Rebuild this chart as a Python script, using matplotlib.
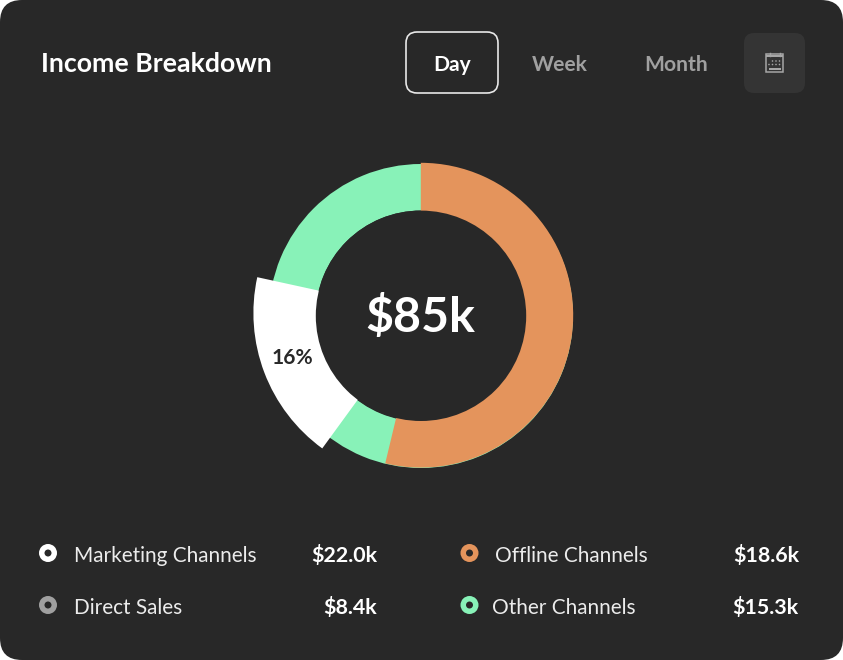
import matplotlib
matplotlib.use('Agg')
import matplotlib.pyplot as plt
from matplotlib.patches import FancyBboxPatch, Rectangle, Circle

plt.rcParams['font.family'] = ['Lato', 'DejaVu Sans']

# ring shares in percent, clockwise from the top
orange_share = 53.75
white_share = 18.4
white_start = 216.1   # degrees clockwise from the top
center_label = '$85k'
white_label = '16%'
title = 'Income Breakdown'
periods = ['Day', 'Week', 'Month']
legend_names = ['Marketing Channels', 'Direct Sales', 'Offline Channels', 'Other Channels']
legend_values = ['$22.0k', '$8.4k', '$18.6k', '$15.3k']
legend_colors = ['#ffffff', '#a0a0a0', '#e4945c', '#88f2b8']

W, H = 843, 660
BG = '#282828'
GREEN = '#88f2b8'
ORANGE = '#e4945c'

fig = plt.figure(figsize=(W / 100, H / 100), dpi=100, facecolor='white')
ax = fig.add_axes([0, 0, 1, 1])

# y is flipped by hand so the pie keeps its normal direction
def Y(py):
    return H - py

def box(x0, y0, x1, y1, r, **kw):
    ax.add_patch(FancyBboxPatch((x0 + r, Y(y1) + r), x1 - x0 - 2 * r, y1 - y0 - 2 * r,
                                boxstyle='round,pad=%f' % r, **kw))

def fs(px):
    return px * 0.72

# card
box(0, 0, 843, 660, 22, fc=BG, ec='none', zorder=0)

# ring: green base, orange and white sit slightly off centre on top of it
ax.pie([100], colors=[GREEN], center=(421, Y(316)), radius=152,
       wedgeprops=dict(width=46.5, linewidth=0), frame=True)
ax.pie([orange_share, 100 - orange_share], colors=[ORANGE, 'none'], startangle=90,
       counterclock=False, center=(420.8, Y(315.2)), radius=152.4,
       wedgeprops=dict(width=49, linewidth=0), frame=True)
ax.pie([white_share, 100 - white_share], colors=['white', 'none'], startangle=90 - white_start,
       counterclock=False, center=(421, Y(313)), radius=167.6,
       wedgeprops=dict(width=65, linewidth=0), frame=True)
# hole is drawn last so the inner edge stays one circle
ax.add_patch(Circle((421, Y(315.8)), 105.2, fc=BG, ec='none', zorder=4))

ax.set_xlim(0, W)
ax.set_ylim(0, H)
ax.set_aspect('equal')
ax.axis('off')

ax.text(420.3, Y(317.5), center_label, color='white', fontsize=fs(48.2), weight='bold',
        ha='center', va='center', zorder=5)
ax.text(292.5, Y(358), white_label, color=BG, fontsize=fs(21), weight='bold',
        ha='center', va='center', zorder=5)

# header
ax.text(41, Y(64.5), title, color='white', fontsize=fs(26.7), weight='bold',
        ha='left', va='center')

box(406, 32, 498, 93, 11, fc='none', ec='#e8e8e8', lw=1.2)
period_x = [452, 559.5, 676]
period_c = ['white', '#a0a0a0', '#a0a0a0']
for label, px, c in zip(periods, period_x, period_c):
    ax.text(px, Y(65), label, color=c, fontsize=fs(21), weight='bold',
            ha='center', va='center')

# calendar button
box(744, 33, 805, 93, 10, fc='#343434', ec='none')
icon = '#a6a6a6'
ax.add_patch(Rectangle((766, Y(72)), 17, 18, fc='none', ec=icon, lw=1.1))
ax.add_patch(Rectangle((766, Y(57)), 17, 2, fc=icon, ec='none'))
ax.plot([769.5, 769.5], [Y(56), Y(52.5)], color=icon, lw=1)
ax.plot([779.5, 779.5], [Y(56), Y(52.5)], color=icon, lw=1)
ax.add_patch(Rectangle((768.5, Y(69.5)), 12, 2, fc=icon, ec='none'))
for gx in [772.5, 776, 779.5]:
    ax.add_patch(Circle((gx, Y(61)), 0.8, fc=icon, ec='none'))
for gx in [769, 772.5, 776, 779.5]:
    ax.add_patch(Circle((gx, Y(64.5)), 0.8, fc=icon, ec='none'))

# legend
dot_x = [48, 48, 469.5, 469.5]
dot_y = [553, 605, 553, 605]
name_x = [74, 74, 495, 492]
value_x = [377, 377, 799, 799]
for i in range(4):
    ax.add_patch(Circle((dot_x[i], Y(dot_y[i])), 9, fc=legend_colors[i], ec='none'))
    ax.add_patch(Circle((dot_x[i], Y(dot_y[i])), 3.5, fc=BG, ec='none'))
    ax.text(name_x[i], Y(dot_y[i] + 2.5), legend_names[i],
            color='#ececec', fontsize=fs(20.8), ha='left', va='center')
    ax.text(value_x[i], Y(dot_y[i] + 2.5), legend_values[i],
            color='white', fontsize=fs(21.4), weight='bold', ha='right', va='center')

fig.savefig('out.png', dpi=100, facecolor='white')
